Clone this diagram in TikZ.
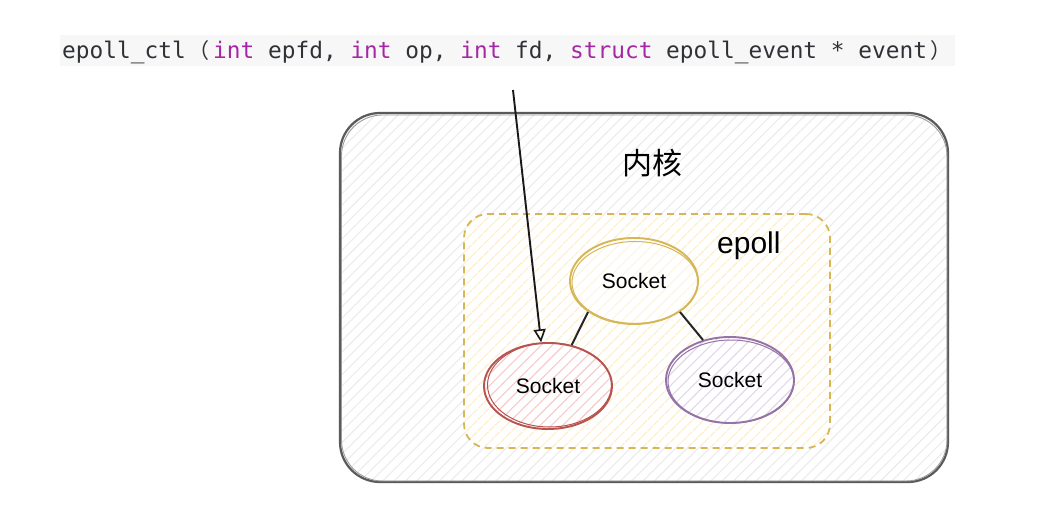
\documentclass[tikz,border=0pt]{standalone}
\usepackage{fontspec}
\usetikzlibrary{shapes.geometric,arrows.meta,patterns.meta}
\newfontfamily\codefont{DejaVu Sans Mono}
\newfontfamily\cjkfont{Noto Sans CJK SC}
\newfontfamily\labelfont{Liberation Sans}
\definecolor{codetext}{HTML}{2F3137}
\definecolor{keyword}{HTML}{A626A4}
\definecolor{codebg}{HTML}{F7F7F7}
\definecolor{kernelline}{HTML}{5A5A5A}
\definecolor{kernelhatch}{HTML}{ECECEC}
\definecolor{yelline}{HTML}{D6B656}
\definecolor{yelhatch}{HTML}{FCEFC9}
\definecolor{redline}{HTML}{B85450}
\definecolor{redhatch}{HTML}{F6CBC8}
\definecolor{purline}{HTML}{9673A6}
\definecolor{purhatch}{HTML}{E3D7EA}
\newcommand{\kw}[1]{\textcolor{keyword}{#1}}
\newcommand{\fwp}[1]{\makebox[27.5pt][c]{\cjkfont\fontsize{21}{24}\selectfont #1}}
\tikzset{
  hatch/.style={preaction={fill=white},pattern={Lines[angle=45,distance=8pt,line width=1.1pt]},pattern color=#1},
  kernelbox/.style={draw=kernelline,line width=2.2pt,rounded corners=40pt,hatch=kernelhatch},
  epollbox/.style={draw=yelline,line width=1.8pt,dash pattern=on 7pt off 5pt,rounded corners=24pt,hatch=yelhatch},
  sock/.style={ellipse,line width=1.9pt,inner sep=0pt,minimum width=128pt,minimum height=86pt,
    font=\labelfont\fontsize{21}{24}\selectfont,text=black},
  link/.style={line width=2pt,black!85},
  call/.style={line width=1.9pt,black!90,-{Triangle[open,length=13pt,width=12pt,line width=1.6pt]}}
}
\begin{document}
\begin{tikzpicture}[x=1pt,y=-1pt]
\useasboundingbox (0,0) rectangle (1053,513);
% code line
\fill[codebg] (60,35) rectangle (955,66);
\node[anchor=base west,inner sep=0pt,text=codetext,font=\codefont\fontsize{22.8}{26}\selectfont] (code) at (62,59)
 {epoll\_ctl\fwp{（}\kw{int} epfd, \kw{int} op, \kw{int} fd, \kw{struct} epoll\_event * event\fwp{）}};
% kernel box
\node[kernelbox,minimum width=608pt,minimum height=369pt,inner sep=0pt] (kernel) at (644,297.5) {};
\draw[kernelline!60,line width=0.9pt,rounded corners=41pt] (341.5,115) rectangle (947,481);
\node[font=\cjkfont\fontsize{30}{34}\selectfont] (kernlabel) at (652,163) {内核};
% epoll box
\node[epollbox,minimum width=366pt,minimum height=234pt,inner sep=0pt] (epoll) at (647,331) {};
\node[anchor=base west,inner sep=0pt,font=\labelfont\fontsize{30}{34}\selectfont] (epolllabel) at (717,254) {epoll};
% sockets
\node[sock,draw=yelline,hatch=yelhatch!60] (s1) at (634,281) {Socket};
\draw[yelline,line width=1pt] (635,282.5) ellipse [x radius=63pt,y radius=41pt];
\node[sock,draw=redline,hatch=redhatch] (s2) at (548,386) {Socket};
\draw[redline,line width=1pt] (549.5,385) ellipse [x radius=62pt,y radius=42pt];
\node[sock,draw=purline,hatch=purhatch] (s3) at (730,380) {Socket};
\draw[purline,line width=1pt] (731,381.5) ellipse [x radius=63pt,y radius=41.5pt];
% links
\draw[link] (s1.214) -- (s2.60);
\draw[link] (s1.326) -- (s3.124);
% call arrow
\coordinate (src) at (513,90);
\draw[call] (src) -- (s2.99);
\end{tikzpicture}
\end{document}
